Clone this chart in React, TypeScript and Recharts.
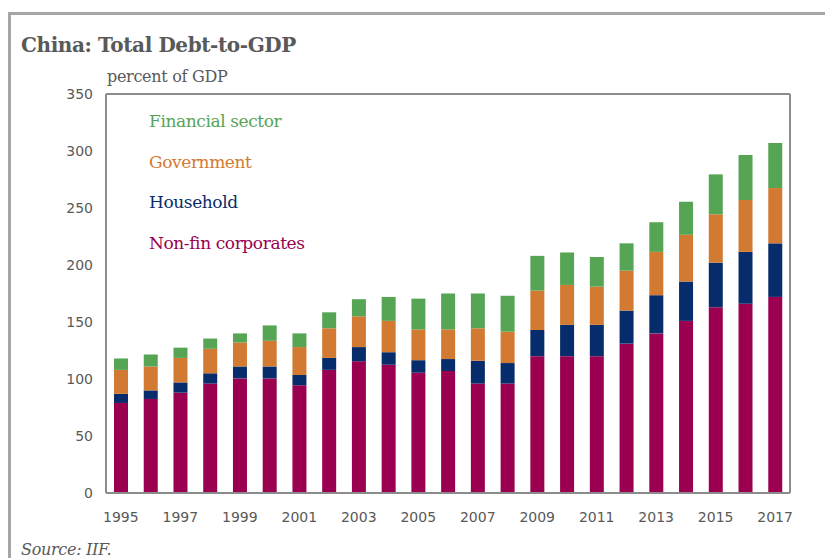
import React from "react";
import { BarChart, Bar, XAxis, YAxis, Legend, CartesianGrid } from "recharts";

const years = ["1995","1996","1997","1998","1999","2000","2001","2002","2003","2004","2005","2006","2007","2008","2009","2010","2011","2012","2013","2014","2015","2016","2017"];
const nonFinCorporates = [79, 82.5, 88, 96, 100.5, 100.5, 94.5, 108, 115.5, 112.5, 105.5, 107, 96, 96, 120, 120, 120, 131, 140, 151, 163, 166, 172];
const household = [8, 7.5, 9, 9, 10.5, 10.5, 9, 10.5, 12.5, 11, 11, 10.5, 20, 18, 23, 27.5, 27.5, 29, 33.5, 34.5, 39, 45.5, 47];
const government = [21, 21, 21.5, 21.5, 21, 22.5, 24.5, 26, 27, 27.5, 27, 26, 28.5, 27.5, 34.5, 35, 33.5, 35, 38, 41, 42.5, 45.5, 48.5];
const financialSector = [10, 10.5, 9, 9, 8, 13.5, 12, 14, 15, 21, 27, 31.5, 30.5, 31.5, 30.5, 28.5, 26, 24, 26, 29, 35, 39.5, 39.5];
const yTicks = [0, 50, 100, 150, 200, 250, 300, 350];
const legendOrder = ["Financial sector", "Government", "Household", "Non-fin corporates"];

const data = years.map((year, i) => ({
  year,
  nonFin: nonFinCorporates[i],
  household: household[i],
  government: government[i],
  financial: financialSector[i],
}));

const SERIF = "DejaVu Serif";
const TICK_FONT = { fontFamily: "DejaVu Sans", fontSize: 14, fill: "#595959" };

const LegendContent = (props: any) => {
  const items = [...(props.payload || [])].sort(
    (a: any, b: any) => legendOrder.indexOf(a.value) - legendOrder.indexOf(b.value)
  );
  return (
    <div style={{ fontFamily: SERIF, fontSize: 17, letterSpacing: -0.4 }}>
      {items.map((it: any) => (
        <div key={it.value} style={{ color: it.color, height: 40.5, lineHeight: "27px", whiteSpace: "nowrap" }}>
          {it.value}
        </div>
      ))}
    </div>
  );
};

export default function App() {
  return (
    <div style={{ position: "absolute", left: 0, top: 0, width: 825, height: 558, overflow: "hidden", background: "#fff" }}>
      <div style={{ position: "absolute", left: 8, top: 12, width: 840, height: 600, borderTop: "3px solid #a6a6a6", borderLeft: "3px solid #a6a6a6" }} />
      <div style={{ position: "absolute", left: 21, top: 33, fontFamily: SERIF, fontWeight: "bold", fontSize: 20, letterSpacing: -0.4, color: "#595959", whiteSpace: "nowrap" }}>
        China: Total Debt-to-GDP
      </div>
      <div style={{ position: "absolute", left: 107, top: 67, fontFamily: SERIF, fontSize: 16, letterSpacing: -0.3, color: "#595959", whiteSpace: "nowrap" }}>
        percent of GDP
      </div>
      <div style={{ position: "absolute", left: 21, top: 540, fontFamily: SERIF, fontStyle: "italic", fontSize: 16, letterSpacing: -0.3, color: "#595959", whiteSpace: "nowrap" }}>
        Source: IIF.
      </div>
      <div style={{ position: "absolute", left: 0, top: 0 }}>
        <BarChart width={825} height={558} data={data} margin={{ top: 94, right: 35, bottom: 35, left: 0 }}>
          <CartesianGrid
            stroke="#8c8c8c"
            strokeWidth={2}
            fill="none"
            horizontalCoordinatesGenerator={({ offset }: any) => [offset.top]}
            verticalCoordinatesGenerator={({ offset }: any) => [offset.left + offset.width]}
          />
          <XAxis dataKey="year" height={30} interval={1} tickSize={0} tickMargin={19} tick={TICK_FONT} axisLine={{ stroke: "#8c8c8c", strokeWidth: 2 }} tickLine={false} />
          <YAxis width={106} domain={[0, 350]} ticks={yTicks} tickSize={0} tickMargin={13} tick={TICK_FONT} axisLine={{ stroke: "#8c8c8c", strokeWidth: 2 }} tickLine={false} />
          <Legend layout="vertical" align="center" verticalAlign="middle" content={<LegendContent />} wrapperStyle={{ position: "absolute", left: 149, top: 108, width: 260 }} />
          <Bar dataKey="nonFin" name="Non-fin corporates" stackId="a" fill="#9a004f" barSize={14} isAnimationActive={false} />
          <Bar dataKey="household" name="Household" stackId="a" fill="#062c6b" barSize={14} isAnimationActive={false} />
          <Bar dataKey="government" name="Government" stackId="a" fill="#d27a31" barSize={14} isAnimationActive={false} />
          <Bar dataKey="financial" name="Financial sector" stackId="a" fill="#56a555" barSize={14} isAnimationActive={false} />
        </BarChart>
      </div>
    </div>
  );
}
